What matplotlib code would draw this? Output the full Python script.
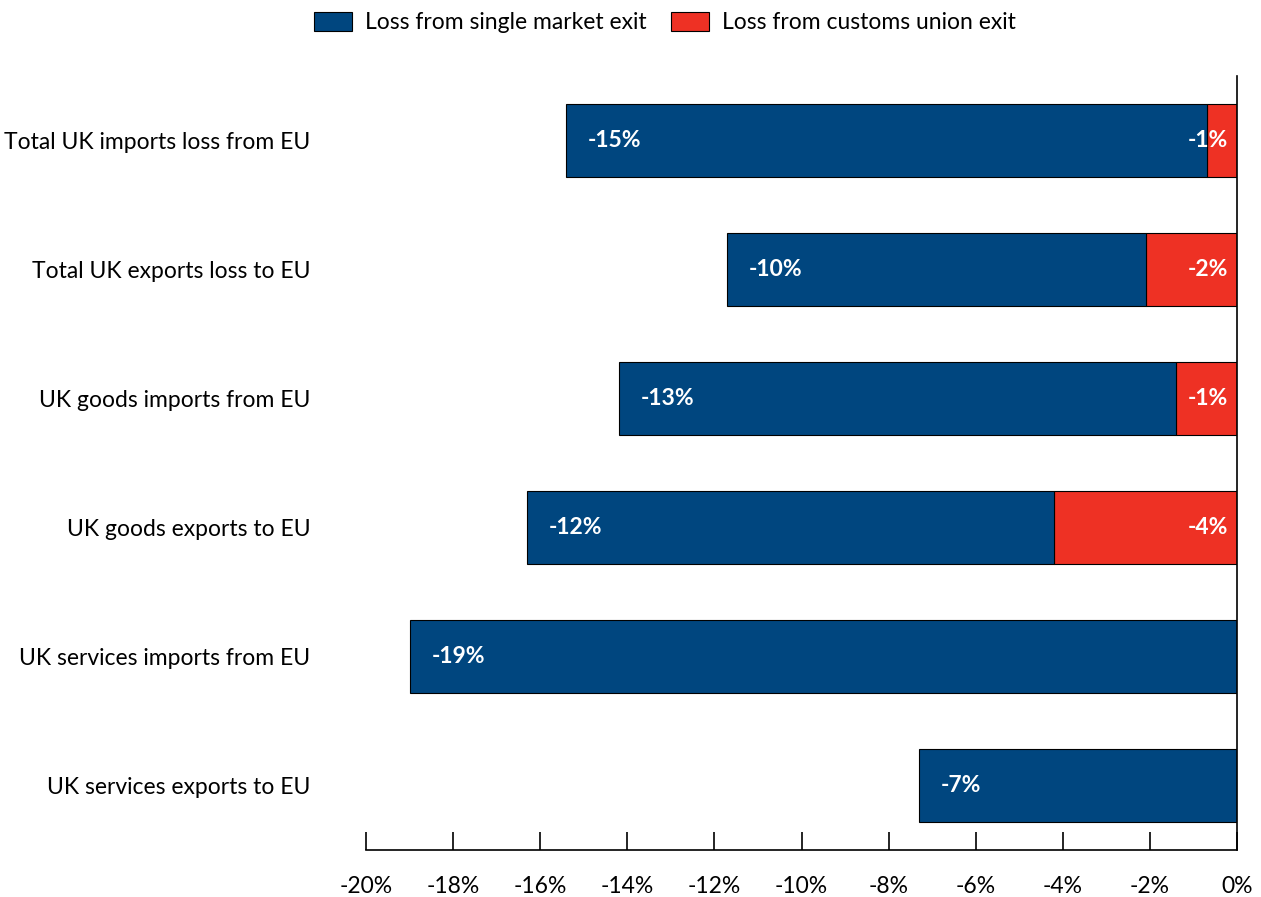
import matplotlib
matplotlib.use("Agg")
import matplotlib.pyplot as plt
from matplotlib.patches import Patch

plt.rcParams['font.family'] = ['Lato', 'DejaVu Sans']

categories = ["Total UK imports loss from EU", "Total UK exports loss to EU",
              "UK goods imports from EU", "UK goods exports to EU",
              "UK services imports from EU", "UK services exports to EU"]
single_market = [-14.7, -9.6, -12.8, -12.1, -19.0, -7.3]
customs_union = [-0.7, -2.1, -1.4, -4.2, 0.0, 0.0]
xticks = [-20, -18, -16, -14, -12, -10, -8, -6, -4, -2, 0]

blue = "#00467f"
red = "#ee3124"

fig = plt.figure(figsize=(12.61, 8.97), dpi=100)
ax = fig.add_axes([366/1261, 1 - 850/897, (1237-366)/1261, (850-76)/897])

y = list(range(len(categories)))
ax.barh(y, customs_union, height=0.57, color=red, edgecolor="black", linewidth=0.8)
ax.barh(y, single_market, left=customs_union, height=0.57, color=blue, edgecolor="black", linewidth=0.8)

for i in y:
    sm = single_market[i]
    cu = customs_union[i]
    ax.text(sm + cu + 0.5, i, f"{sm:.0f}%", color="white", fontsize=16.5, fontweight="bold",
            ha="left", va="center")
    if cu != 0:
        ax.text(-0.2, i, f"{cu:.0f}%", color="white", fontsize=16.5, fontweight="bold",
                ha="right", va="center")

ax.set_xlim(-20, 0)
ax.set_ylim(len(categories) - 0.5, -0.5)
ax.set_yticks(y)
ax.set_yticklabels(categories, fontsize=16.5)
ax.tick_params(axis="y", length=0, pad=40)
ax.set_xticks(xticks)
ax.set_xticklabels([f"{t}%" for t in xticks], fontsize=16.5)
ax.tick_params(axis="x", direction="in", length=13, width=1.2, pad=19)

ax.spines["top"].set_visible(False)
ax.spines["left"].set_visible(False)
ax.spines["right"].set_linewidth(1.2)
ax.spines["bottom"].set_linewidth(1.2)

handles = [Patch(facecolor=blue, edgecolor="black", linewidth=0.8, label="Loss from single market exit"),
           Patch(facecolor=red, edgecolor="black", linewidth=0.8, label="Loss from customs union exit")]
fig.legend(handles=handles, loc="upper center", bbox_to_anchor=(665/1261, 1.01), ncol=2,
           frameon=False, fontsize=16.5, handlelength=1.65, handleheight=0.95,
           handletextpad=0.55, columnspacing=1.1)

fig.savefig("out.png", dpi=100)
